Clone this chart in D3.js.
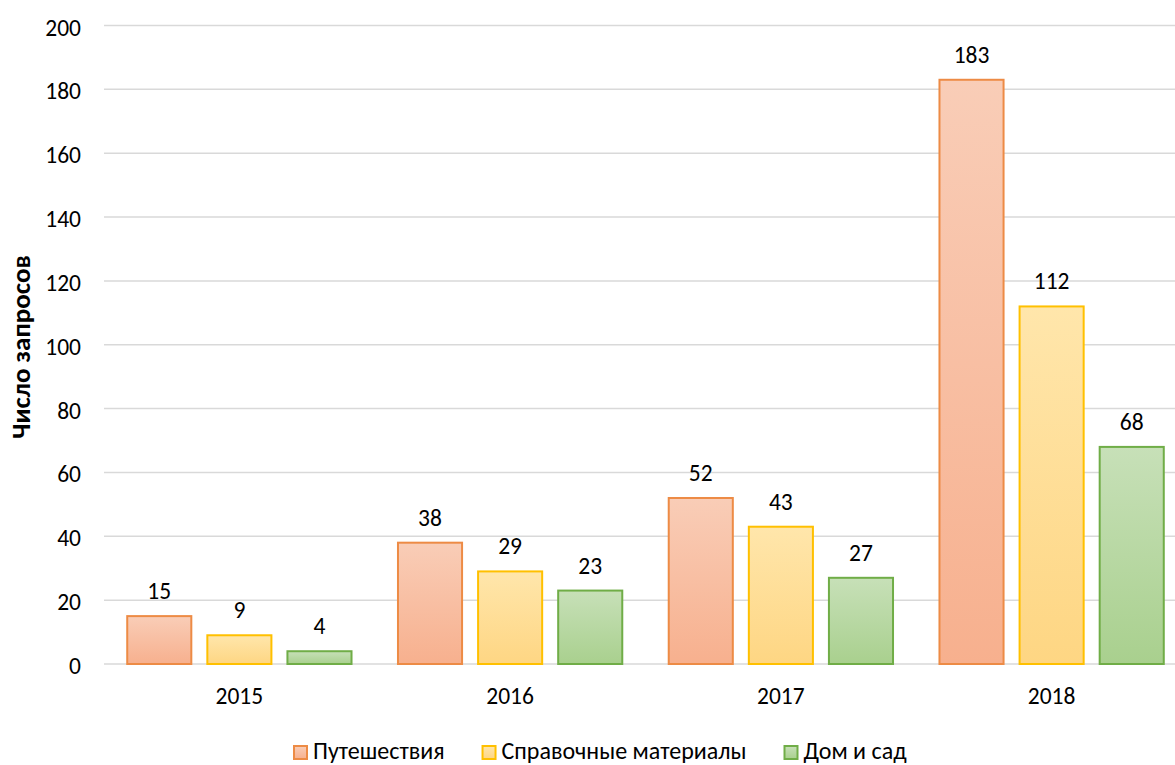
<!DOCTYPE html>
<html>
<head>
<meta charset="utf-8">
<script src="https://cdn.jsdelivr.net/npm/d3@7"></script>
<style>
	html, body { margin: 0; padding: 0; background: #fff; }
	svg { display: block; font-family: Carlito, "Open Sans", sans-serif; }
	.tick-label { font-size: 23.5px; fill: #000; }
	.value-label { font-size: 23.5px; fill: #000; }
	.legend-label { font-size: 24px; fill: #000; }
	.axis-title { font-size: 27px; font-weight: bold; fill: #000; }
</style>
</head>
<body>
<div id="chart"></div>
<script>
// data
const years = ['2015', '2016', '2017', '2018'];
const seriesNames = ['Путешествия', 'Справочные материалы', 'Дом и сад'];
const travel = [15, 38, 52, 183];
const reference = [9, 29, 43, 112];
const homeGarden = [4, 23, 27, 68];
const yTicks = [0, 20, 40, 60, 80, 100, 120, 140, 160, 180, 200];

const seriesValues = [travel, reference, homeGarden];
const seriesStyle = [
	{ top: '#F9CDB7', bottom: '#F7B08E', stroke: '#ED8B45' },
	{ top: '#FFE6AB', bottom: '#FED683', stroke: '#FFC000' },
	{ top: '#C7E0B8', bottom: '#A9D08E', stroke: '#70AD47' }
];

const W = 1175, H = 765;
const plot = { left: 104, right: 1187, top: 25.5, bottom: 664 };

const svg = d3.select('#chart')
	.append('svg')
	.attr('width', W)
	.attr('height', H)
	.attr('viewBox', `0 0 ${W} ${H}`);

const defs = svg.append('defs');
seriesStyle.forEach((s, i) => {
	const grad = defs.append('linearGradient')
		.attr('id', `grad${i}`)
		.attr('x1', 0).attr('y1', 0).attr('x2', 0).attr('y2', 1);
	grad.append('stop').attr('offset', '0%').attr('stop-color', s.top);
	grad.append('stop').attr('offset', '100%').attr('stop-color', s.bottom);
});

const y = d3.scaleLinear().domain([0, 200]).range([plot.bottom, plot.top]);
const x0 = d3.scaleBand().domain(years).range([plot.left, plot.right]);
const x1 = d3.scaleBand().domain(d3.range(seriesNames.length))
	.range([0, x0.bandwidth()])
	.paddingInner(0.2)
	.paddingOuter(0.29);

// gridlines
svg.append('g')
	.selectAll('line')
	.data(yTicks)
	.enter()
	.append('line')
	.attr('x1', plot.left)
	.attr('x2', plot.right)
	.attr('y1', d => y(d))
	.attr('y2', d => y(d))
	.attr('stroke', '#D9D9D9')
	.attr('stroke-width', 1.5);

// y tick labels
svg.append('g')
	.selectAll('text')
	.data(yTicks)
	.enter()
	.append('text')
	.classed('tick-label', true)
	.attr('x', 81)
	.attr('y', d => y(d) + 10)
	.attr('text-anchor', 'end')
	.text(d => d);

// x labels
svg.append('g')
	.selectAll('text')
	.data(years)
	.enter()
	.append('text')
	.classed('tick-label', true)
	.attr('x', d => x0(d) + x0.bandwidth() / 2)
	.attr('y', 704)
	.attr('text-anchor', 'middle')
	.text(d => d);

// bars
seriesValues.forEach((vals, si) => {
	const g = svg.append('g');
	g.selectAll('rect')
		.data(vals)
		.enter()
		.append('rect')
		.attr('x', (d, i) => x0(years[i]) + x1(si))
		.attr('y', d => y(d))
		.attr('width', x1.bandwidth())
		.attr('height', d => y(0) - y(d))
		.attr('fill', `url(#grad${si})`)
		.attr('stroke', seriesStyle[si].stroke)
		.attr('stroke-width', 2);

	g.selectAll('text')
		.data(vals)
		.enter()
		.append('text')
		.classed('value-label', true)
		.attr('x', (d, i) => x0(years[i]) + x1(si) + x1.bandwidth() / 2)
		.attr('y', d => y(d) - 17)
		.attr('text-anchor', 'middle')
		.text(d => d);
});

// axis title
svg.append('text')
	.classed('axis-title', true)
	.attr('transform', `translate(30, 347) rotate(-90)`)
	.attr('text-anchor', 'middle')
	.text('Число запросов');

// legend, laid out left to right from measured text widths
const legend = svg.append('g').attr('transform', 'translate(0, 746)');
let lx = 294;
seriesNames.forEach((name, i) => {
	const item = legend.append('g').attr('transform', `translate(${lx}, 0)`);
	item.append('rect')
		.attr('width', 13)
		.attr('height', 13)
		.attr('fill', `url(#grad${i})`)
		.attr('stroke', seriesStyle[i].stroke)
		.attr('stroke-width', 2);
	const t = item.append('text')
		.classed('legend-label', true)
		.attr('x', 19)
		.attr('y', 13)
		.text(name);
	lx += 19 + t.node().getComputedTextLength() + 38;
});
</script>
</body>
</html>
